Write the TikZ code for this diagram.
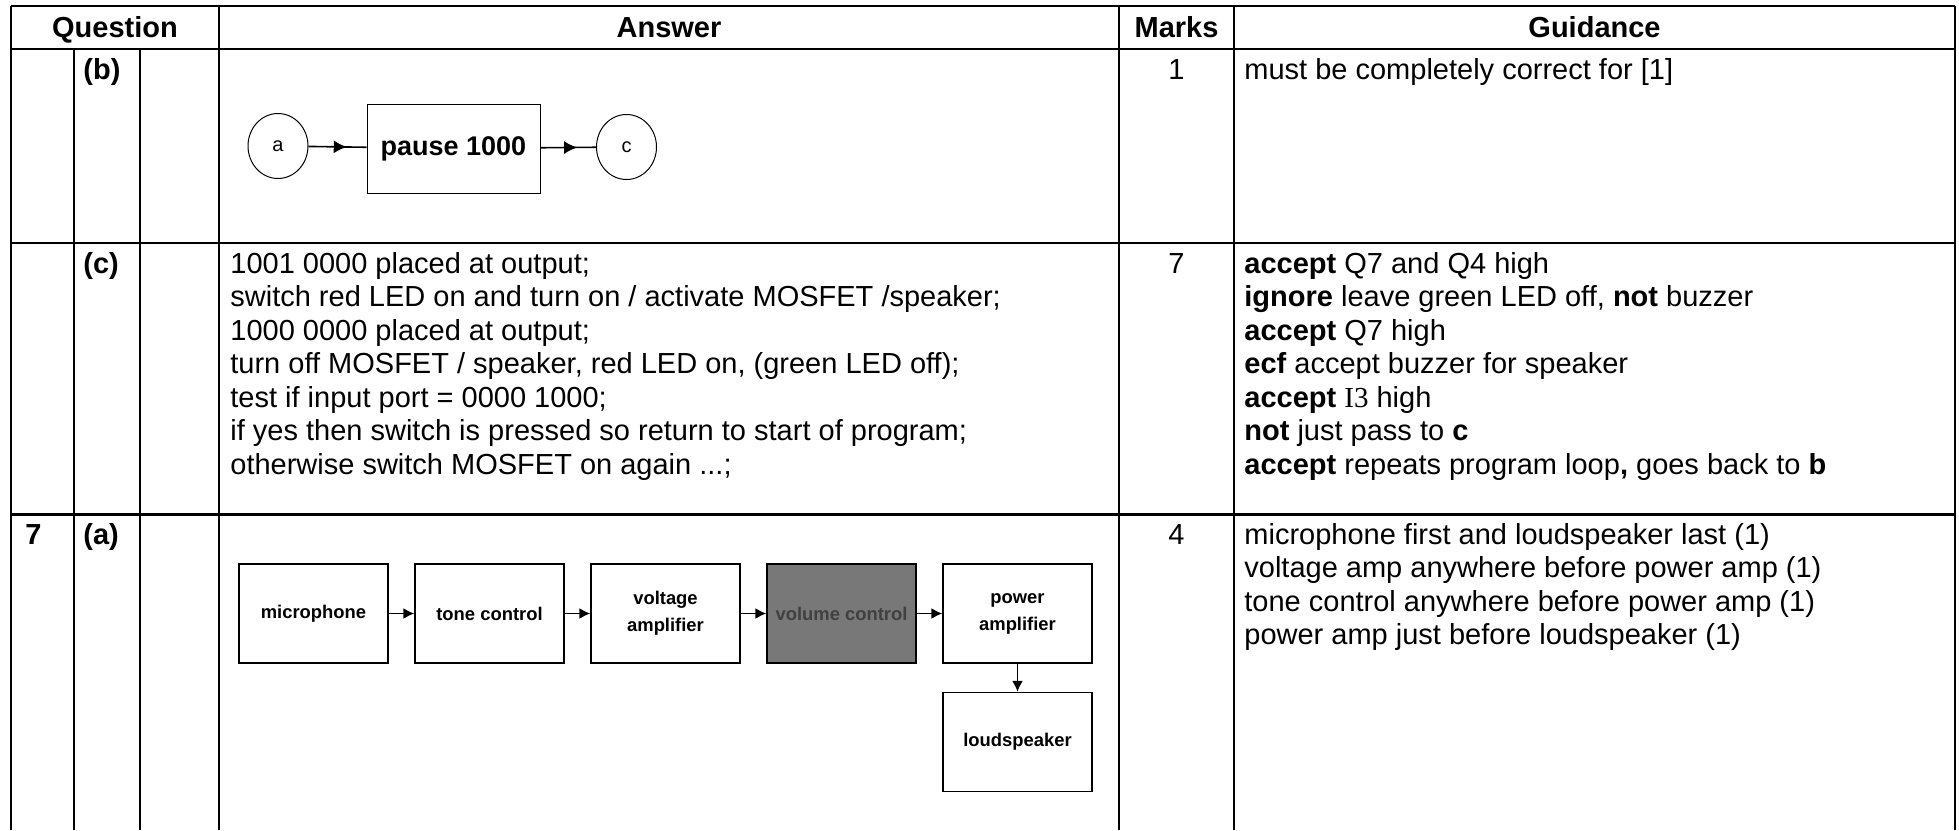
\documentclass[tikz,border=0pt]{standalone}
\usepackage{fontspec}
\setmainfont{Liberation Sans}
\newfontfamily\serfont{Liberation Serif}
\usetikzlibrary{arrows,arrows.meta,calc,shapes.geometric,decorations.markings}
\tikzset{>=latex}
\definecolor{boxgrey}{RGB}{120,120,120}

\begin{document}
\begin{tikzpicture}[x=0.5pt,y=-0.5pt,>=latex,
    rule/.style={line width=1pt},
    thickrule/.style={line width=1.5pt},
    hd/.style={anchor=base,inner sep=0pt,font=\fontsize{14.5}{16.75}\selectfont\bfseries},
    lbl/.style={anchor=base west,inner sep=0pt,font=\fontsize{14.5}{16.75}\selectfont\bfseries},
    mk/.style={anchor=base,inner sep=0pt,font=\fontsize{14.5}{16.75}\selectfont},
    txt/.style={anchor=north west,inner sep=0pt,align=left,font=\fontsize{14.5}{16.75}\selectfont},
    circ/.style={draw,ellipse,line width=0.5pt,minimum width=30pt,minimum height=32.5pt,inner sep=0pt,font=\fontsize{10}{10}\selectfont},
    blk/.style={draw,line width=0.7pt,inner sep=0pt,align=center,minimum width=74.5pt,minimum height=49.5pt,font=\fontsize{9.2}{13.5}\selectfont\bfseries},
    flow/.style={-{Latex[length=5.5pt,width=5.5pt]},line width=0.8pt},
    midarrow/.style={line width=0.8pt,postaction={decorate},decoration={markings,mark=at position 0.66 with {\arrow{Latex[length=6.5pt,width=6.5pt]}}}}]
  \useasboundingbox (0,0) rectangle (1959,830);
  % table rules
  \draw [rule] (11,6) -- (1955,6);
  \draw [rule] (11,49) -- (1955,49);
  \draw [rule] (11,243) -- (1955,243);
  \draw [thickrule] (11,514) -- (1955,514);
  \foreach \x in {11,219,1119,1234,1955}
    \draw [rule] (\x,6) -- (\x,830);
  \foreach \x in {73.5,139.5}
    \draw [rule] (\x,49) -- (\x,830);
  % header
  \node [hd] (qhead) at (115,37) {Question};
  \node [hd] (ahead) at (669,37) {Answer};
  \node [hd] (mhead) at (1176.5,37) {Marks};
  \node [hd] (ghead) at (1594.5,37) {Guidance};
  % part (b)
  \node [lbl] (partb) at (83,79) {(b)};
  \node [circ] (a) at (278,146) {a};
  \node [blk,minimum width=86.5pt,minimum height=44.5pt,line width=0.5pt,font=\fontsize{13.5}{13.5}\selectfont\bfseries] (pause) at (453.5,148.5) {pause 1000};
  \node [circ] (c) at (626.5,147) {c};
  \draw [midarrow] (a) -- (pause);
  \draw [midarrow] (pause) -- (c);
  \node [mk] (markb) at (1176.5,79) {1};
  \node [txt] (guideb) at (1244,58) {must be completely correct for [1]};
  % part (c)
  \node [lbl] (partc) at (83,273) {(c)};
  \node [txt] (ansc) at (230,252) {1001 0000 placed at output;\\
    switch red LED on and turn on / activate MOSFET /speaker;\\
    1000 0000 placed at output;\\
    turn off MOSFET / speaker, red LED on, (green LED off);\\
    test if input port = 0000 1000;\\
    if yes then switch is pressed so return to start of program;\\
    otherwise switch MOSFET on again ...;};
  \node [mk] (markc) at (1176.5,273) {7};
  \node [txt] (guidec) at (1244,252) {\textbf{accept} Q7 and Q4 high\\
    \textbf{ignore} leave green LED off, \textbf{not} buzzer\\
    \textbf{accept} Q7 high\\
    \textbf{ecf} accept buzzer for speaker\\
    \textbf{accept} {\serfont I3} high\\
    \textbf{not} just pass to \textbf{c}\\
    \textbf{accept} repeats program loop\textbf{,} goes back to \textbf{b}};
  % question 7 (a)
  \node [lbl] (qseven) at (25,544) {7};
  \node [lbl] (parta) at (83,544) {(a)};
  \node [blk] (mic) at (313.5,613.5) {microphone};
  \node [blk] (tone) at (489.5,613.5) {tone control};
  \node [blk] (volt) at (665.5,613.5) {voltage\\amplifier};
  \node [blk,fill=boxgrey,text=black!75] (vol) at (841.5,613.5) {volume control};
  \node [blk] (pamp) at (1017.5,613.5) {power\\amplifier};
  \node [blk] (spk) at (1017.5,742) {loudspeaker};
  \draw [flow] (mic) -- (tone);
  \draw [flow] (tone) -- (volt);
  \draw [flow] (volt) -- (vol);
  \draw [flow] (vol) -- (pamp);
  \draw [flow] (pamp) -- (spk);
  \node [mk] (marka) at (1176.5,544) {4};
  \node [txt] (guidea) at (1244,523) {microphone first and loudspeaker last (1)\\
    voltage amp anywhere before power amp (1)\\
    tone control anywhere before power amp (1)\\
    power amp just before loudspeaker (1)};
\end{tikzpicture}
\end{document}
